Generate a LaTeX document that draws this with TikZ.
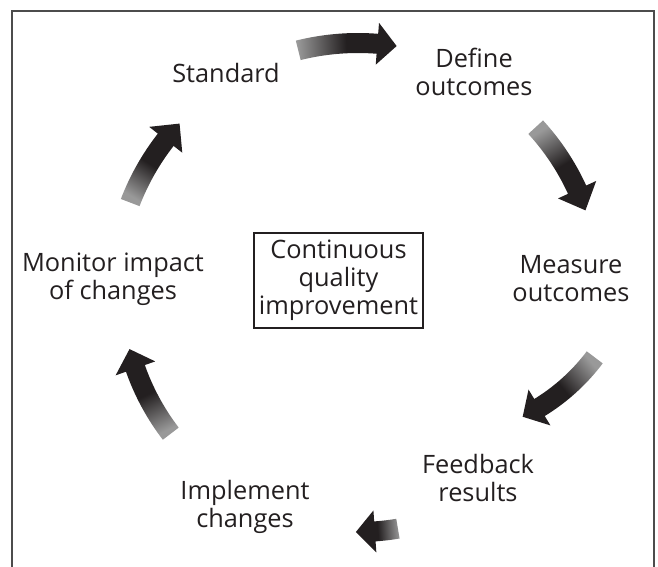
\documentclass[tikz,border=0pt]{standalone}
\usepackage{fontspec}
\setmainfont{Open Sans}
\usetikzlibrary{calc}
\definecolor{ink}{HTML}{231F20}
\newcommand\ringarrow[5]{%
  \pgfmathsetmacro\shang{-(#2+#4)/2-180}%
  \pgfmathsetmacro\ro{#5+10}\pgfmathsetmacro\ri{#5-10}%
  \pgfmathsetmacro\ho{#5+21}\pgfmathsetmacro\hi{#5-21}%
  \shade[top color=ink, bottom color=gray!80, middle color=ink, shading angle=\shang]
    ($(#1)+(#2:\ro)$) arc[start angle=#2, end angle=#3, radius=\ro]
    -- ($(#1)+(#3:\ho)$) -- ($(#1)+(#4:#5)$) -- ($(#1)+(#3:\hi)$) -- ($(#1)+(#3:\ri)$)
    arc[start angle=#3, end angle=#2, radius=\ri] -- cycle;
}
\begin{document}
\begin{tikzpicture}[x=0.75pt,y=-0.75pt,
  lbl/.style={align=center, text=ink, font=\fontsize{19}{21}\selectfont, inner sep=0pt},
  frame/.style={draw=black!70, line width=1.2pt}]
\useasboundingbox (0,0) rectangle (658,567);
\coordinate (C) at (358,290);
\coordinate (C3) at (435,237);
\draw[frame] (12,567) -- (12,11) -- (654,11) -- (654,567);
\node[lbl] (std) at (226,73) {Standard};
\node[lbl] (def) at (474,72) {Define\\outcomes};
\node[lbl] (mea) at (571,279) {Measure\\outcomes};
\node[lbl] (fee) at (478,478) {Feedback\\results};
\node[lbl] (imp) at (245,507) {Implement\\changes};
\node[lbl] (mon) at (113,279) {Monitor impact\\of changes};
\node[lbl, draw=ink, line width=1pt, minimum width=126.75pt, minimum height=71.25pt] (cqi) at (338.5,280.5) {Continuous\\quality\\improvement};
\ringarrow{C}{256}{274.5}{279}{247}
\ringarrow{C}{317.5}{335.4}{340.7}{241}
\ringarrow{C3}{37}{58.5}{64}{200}
\ringarrow{C}{80.5}{86}{90.5}{242}
\ringarrow{C}{142.5}{160.6}{165.5}{236}
\ringarrow{C}{201}{218}{223}{244}
\end{tikzpicture}
\end{document}
